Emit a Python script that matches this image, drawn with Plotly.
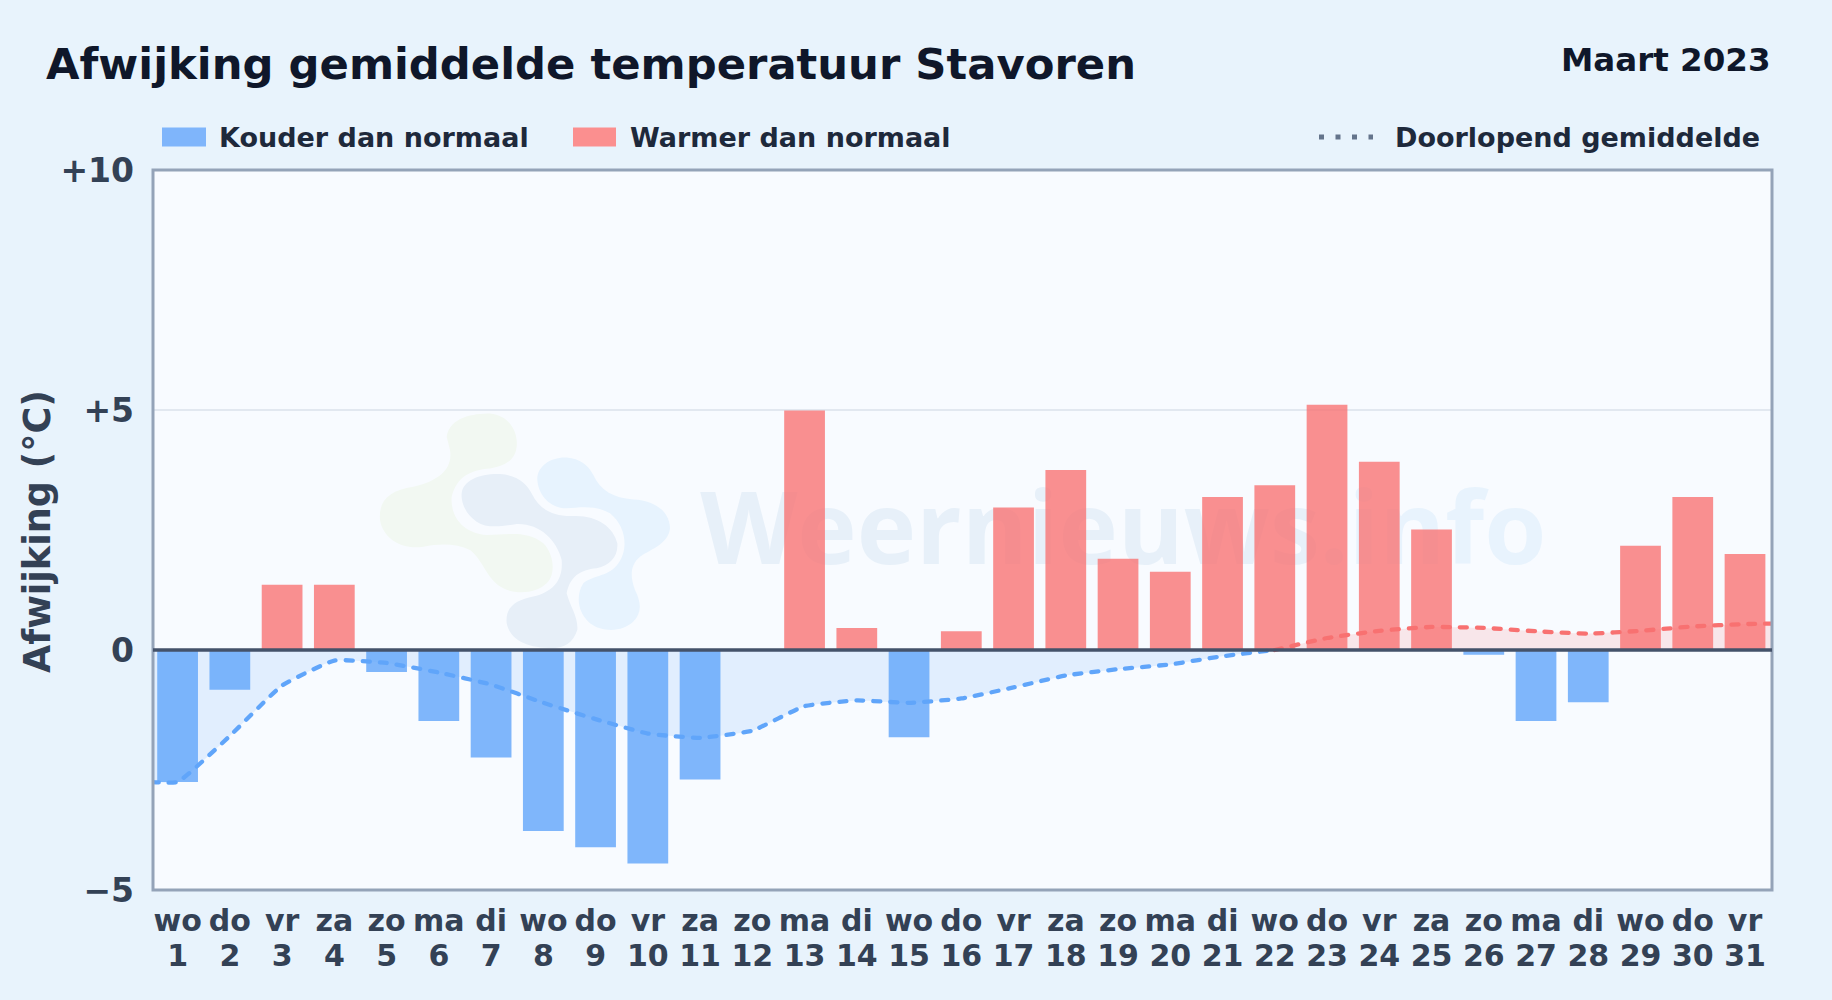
import plotly.graph_objects as go

# ---------- data ----------
days = list(range(1, 32))
weekdays = ["wo","do","vr","za","zo","ma","di","wo","do","vr","za","zo","ma","di","wo","do",
            "vr","za","zo","ma","di","wo","do","vr","za","zo","ma","di","wo","do","vr"]
deviation = [-2.75,-0.83,1.36,1.36,-0.46,-1.48,-2.24,-3.77,-4.11,-4.45,-2.70,0.0,4.99,0.46,-1.82,0.39,
             2.97,3.75,1.90,1.63,3.19,3.43,5.11,3.92,2.51,-0.10,-1.48,-1.09,2.17,3.19,2.00]
avg_cold_x = [0.5,1,2,3,4,5,6,7,8,9,10,11,12,13,14,15,16,17,18,19,20,21,22]
avg_cold_y = [-2.75,-2.75,-1.79,-0.74,-0.22,-0.27,-0.47,-0.72,-1.10,-1.44,-1.74,-1.83,-1.68,-1.17,-1.05,-1.10,-1.01,-0.78,-0.53,-0.40,-0.30,-0.13,0.0]
avg_warm_x = [22,23,24,25,26,27,28,29,30,31,31.5]
avg_warm_y = [0.0,0.25,0.40,0.48,0.46,0.39,0.34,0.40,0.49,0.54,0.55]
y_tick_vals = [-5,0,5,10]
y_tick_text = ["−5","0","+5","+10"]

W, H = 1832, 1000
L, R, T, B = 153.0, 1772.0, 169.5, 890.5
X_RANGE = [0.5292, 31.5167]
FONT = "DejaVu Sans"
BLUE, RED = "#60a5fa", "#f87171"
SMOOTH = 0.4

def px(x): return (x - L) / (R - L)
def py(y): return 1 - (y - T) / (B - T)

fig = go.Figure()

# base layer, below the bars
fig.add_trace(go.Scatter(x=[19.1], y=[2.32], mode="text", hoverinfo="skip", showlegend=False,
    text=['<span style="color:#e7f0f9">Weernieuws</span><span style="color:#e8f3fd">.info</span>'],
    textposition="middle center",
    textfont=dict(family="Open Sans", size=100.5, weight=700)))
fig.add_trace(go.Scatter(x=avg_cold_x, y=avg_cold_y, mode="none", fill="tozeroy",
    fillcolor="rgba(96,165,250,0.15)", line=dict(shape="spline", smoothing=SMOOTH), hoverinfo="skip", showlegend=False))
fig.add_trace(go.Scatter(x=avg_warm_x, y=avg_warm_y, mode="none", fill="tozeroy",
    fillcolor="rgba(248,113,113,0.15)", line=dict(shape="spline", smoothing=SMOOTH), hoverinfo="skip", showlegend=False))

# top layer
bar_colors = ["rgba(96,165,250,0.8)" if v < 0 else "rgba(248,113,113,0.78)" for v in deviation]
fig.add_trace(go.Bar(x=days, y=deviation, marker=dict(color=bar_colors, line=dict(width=0)),
                     width=0.78, xaxis="x2", yaxis="y2", showlegend=False))
for xs, ys, col in [(avg_cold_x, avg_cold_y, BLUE), (avg_warm_x, avg_warm_y, RED)]:
    fig.add_trace(go.Scatter(x=xs, y=ys, mode="lines", xaxis="x2", yaxis="y2", showlegend=False,
        line=dict(color=col, width=4.3, shape="spline", smoothing=SMOOTH, dash="7px,10px")))

def blob(points):
    """Logo outline given in crop coordinates of the watermark (x/3+340, y/3+380)."""
    out = []
    for cmd, coords in points:
        s = " ".join(f"{px(c[0]/3+340):.5f},{py(c[1]/3+380):.5f}" for c in coords)
        out.append(cmd + " " + s)
    return " ".join(out) + " Z"

green = [("M",[(320,170)]),("C",[(330,110),(400,100),(450,100)]),("C",[(510,105),(535,160),(530,200)]),
         ("C",[(525,240),(500,255),(450,265)]),("C",[(390,270),(350,290),(335,350)]),("C",[(330,410),(370,460),(440,465)]),
         ("C",[(500,465),(560,450),(610,490)]),("C",[(640,520),(650,580),(620,610)]),("C",[(590,640),(530,645),(490,625)]),
         ("C",[(440,600),(430,540),(390,510)]),("C",[(350,490),(300,490),(250,500)]),("C",[(190,510),(130,480),(120,420)]),
         ("C",[(115,360),(150,330),(220,320)]),("C",[(290,305),(340,270),(330,210)])]
grey = [("M",[(365,340)]),("C",[(370,300),(420,280),(480,282)]),("C",[(530,285),(560,310),(575,340)]),
        ("C",[(600,390),(640,410),(700,408)]),("C",[(770,405),(820,440),(832,490)]),("C",[(835,530),(810,555),(770,565)]),
        ("C",[(720,570),(690,590),(680,640)]),("C",[(690,680),(715,710),(712,750)]),("C",[(700,790),(670,805),(640,805)]),
        ("C",[(560,805),(510,780),(500,730)]),("C",[(495,680),(530,660),(580,650)]),("C",[(640,635),(670,600),(665,540)]),
        ("C",[(650,480),(600,430),(530,432)]),("C",[(480,440),(440,445),(410,425)]),("C",[(380,405),(362,370),(365,340)])]
sky = [("M",[(592,300)]),("C",[(590,260),(630,230),(680,232)]),("C",[(720,235),(745,255),(760,285)]),
       ("C",[(780,330),(820,355),(880,358)]),("C",[(950,360),(990,400),(990,445)]),("C",[(985,490),(940,505),(900,530)]),
       ("C",[(870,555),(870,590),(885,630)]),("C",[(905,670),(905,700),(880,725)]),("C",[(850,755),(790,760),(750,730)]),
       ("C",[(715,700),(705,650),(730,610)]),("C",[(760,585),(810,590),(835,550)]),("C",[(865,510),(860,440),(810,400)]),
       ("C",[(770,375),(720,382),(680,385)]),("C",[(630,385),(595,345),(592,300)])]

shapes = [dict(type="path", xref="paper", yref="paper", path=blob(p), fillcolor=c, line=dict(width=0), layer="below")
          for p, c in [(green, "#f2f8f2"), (grey, "#e7eff8"), (sky, "#e7f3fe")]]
# frame of the plot, then the zero line on top of it
shapes.append(dict(type="rect", xref="paper", yref="paper", x0=0, x1=1, y0=0, y1=1,
                   line=dict(color="#94a3b8", width=3), fillcolor="rgba(0,0,0,0)", layer="above"))
shapes.append(dict(type="line", xref="paper", yref="y", x0=0, x1=1, y0=0, y1=0,
                   line=dict(color="#44526a", width=3.5), layer="above"))
# legend swatches
shapes.append(dict(type="rect", xref="paper", yref="paper", x0=px(162), x1=px(206), y0=py(146), y1=py(127),
                   fillcolor="#7fb5fb", line=dict(width=0)))
shapes.append(dict(type="rect", xref="paper", yref="paper", x0=px(573), x1=px(616), y0=py(146), y1=py(127),
                   fillcolor="#fb8f8f", line=dict(width=0)))
shapes.append(dict(type="line", xref="paper", yref="paper", x0=px(1319), x1=px(1373), y0=py(136.5), y1=py(136.5),
                   line=dict(color="#64748b", width=5, dash="5px,11.5px")))

def label(text, x, y, size, color, anchor="left", angle=0):
    return dict(text=text, xref="paper", yref="paper", x=px(x), y=py(y), showarrow=False, xanchor=anchor,
                yanchor="middle", textangle=angle, font=dict(family=FONT, size=size, color=color, weight="bold"))

annotations = [
    label("Afwijking gemiddelde temperatuur Stavoren", 44, 63, 43.3, "#0f172a"),
    label("Maart 2023", 1773, 59, 32.5, "#0f172a", anchor="right"),
    label("Kouder dan normaal", 217, 137, 27, "#1e293b"),
    label("Warmer dan normaal", 628, 137, 27, "#1e293b"),
    label("Doorlopend gemiddelde", 1393, 137, 27, "#1e293b"),
    label("Afwijking (°C)", 38, 532, 36.5, "#334155", anchor="center", angle=-90),
]

fig.update_layout(
    width=W, height=H, autosize=False,
    margin=dict(l=L, r=W - R, t=T, b=H - B, pad=0),
    paper_bgcolor="#e8f3fc", plot_bgcolor="#f8fbff",
    barmode="overlay", showlegend=False, hovermode=False,
    shapes=shapes, annotations=annotations,
    xaxis=dict(range=X_RANGE, tickmode="array", tickvals=days, ticktext=weekdays, ticks="",
               ticklabelstandoff=10, tickangle=0, showline=False, zeroline=False, showgrid=False,
               tickfont=dict(family=FONT, size=30, color="#334155", weight="bold")),
    yaxis=dict(range=[-5, 10], tickmode="array", tickvals=y_tick_vals, ticktext=y_tick_text, ticks="",
               ticklabelstandoff=18, showline=False, zeroline=False,
               showgrid=True, gridcolor="#e2e8f0", gridwidth=1.5,
               tickfont=dict(family=FONT, size=33, color="#334155", weight="bold")),
    xaxis2=dict(range=X_RANGE, overlaying="x", side="bottom", anchor="y2", tickmode="array", tickvals=days,
                ticktext=[str(d) for d in days], ticks="", ticklabelstandoff=45, tickangle=0,
                showline=False, zeroline=False, showgrid=False,
                tickfont=dict(family=FONT, size=30, color="#334155", weight="bold")),
    yaxis2=dict(range=[-5, 10], overlaying="y", visible=False, showgrid=False),
)

post = """
document.body.style.margin='0';document.documentElement.style.background='#e8f3fc';
var s=document.createElement('style');s.textContent='.js-line{stroke-linecap:round}';document.head.appendChild(s);
"""
fig.write_html("out.html", post_script=post, config=dict(displayModeBar=False))
